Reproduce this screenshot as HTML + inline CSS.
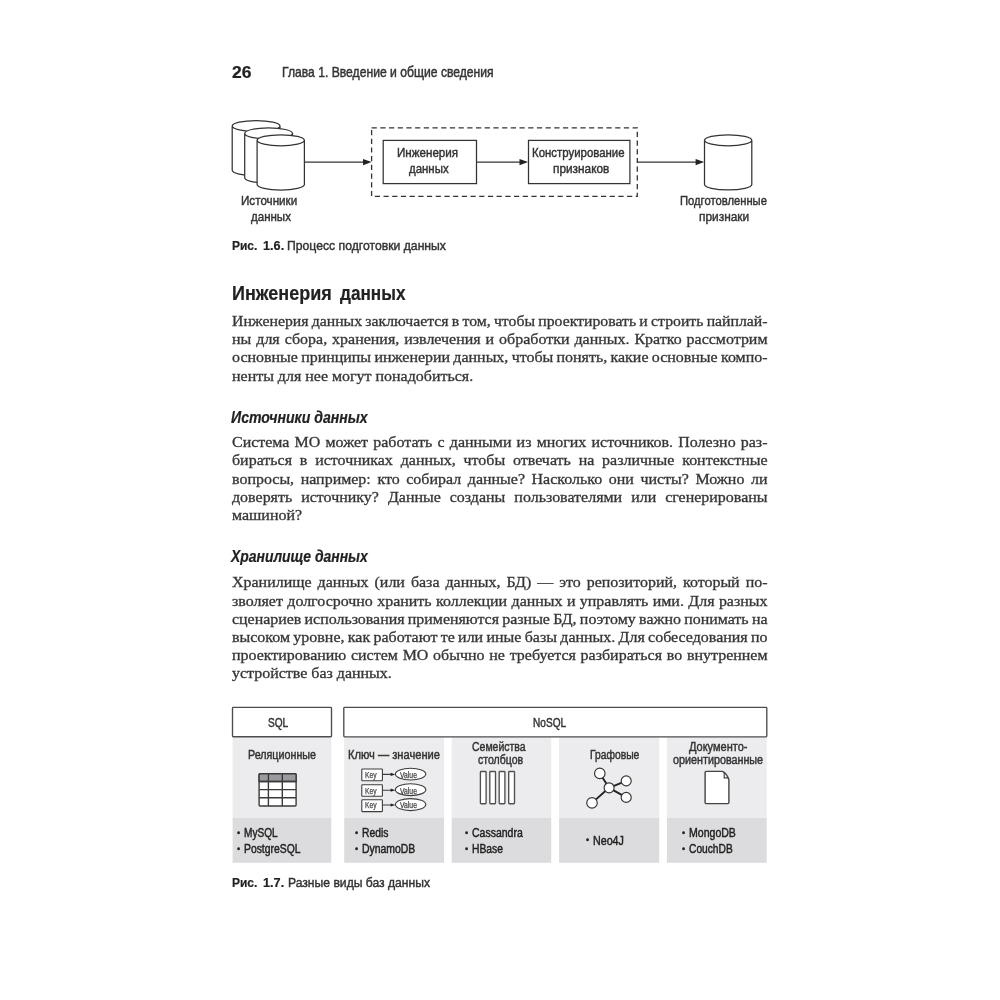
<!DOCTYPE html>
<html lang="ru">
<head>
<meta charset="utf-8">
<title>Глава 1. Введение и общие сведения</title>
<style>
html,body{margin:0;padding:0;background:#fff;}
body{width:1000px;height:1000px;position:relative;overflow:hidden;}
#page{position:absolute;left:0;top:0;width:1000px;height:1000px;overflow:hidden;background:#fff;filter:blur(0.4px);}
svg#art{position:absolute;left:0;top:0;}
.t{position:absolute;white-space:pre;line-height:24px;height:24px;transform-origin:0 50%;display:block;}
.ss{font-family:"Liberation Sans",sans-serif;-webkit-text-stroke:0.45px;}
.sf{font-family:"Liberation Serif",serif;}
h1,h2,p,header,section,article{margin:0;padding:0;font:inherit;display:block;}
.pl{display:block;position:absolute;left:232.3px;font-family:"Liberation Serif",serif;font-size:14.2px;line-height:24px;height:24px;
 white-space:pre;transform:scaleX(1.125);transform-origin:0 50%;color:#363636;text-align:left;-webkit-text-stroke:0.3px;}
</style>
</head>
<body>
<div id="page">
<svg id="art" width="1000" height="1000" viewBox="0 0 1000 1000">
 <!-- ===== Рис. 1.6 ===== -->
 <g fill="#fff" stroke="#333" stroke-width="1.25">
  <!-- cylinders: sources -->
  <path d="M232.2,126 v44.3 a23.9,5.5 0 0 0 47.8,0 v-44.3 a23.9,5.5 0 0 0 -47.8,0 a23.9,5.5 0 0 0 47.8,0"/>
  <path d="M244.7,133.4 v44.3 a23.9,5.5 0 0 0 47.8,0 v-44.3 a23.9,5.5 0 0 0 -47.8,0 a23.9,5.5 0 0 0 47.8,0"/>
  <path d="M257.1,140.3 v44.2 a23.65,5.5 0 0 0 47.3,0 v-44.2 a23.65,5.5 0 0 0 -47.3,0 a23.65,5.5 0 0 0 47.3,0"/>
  <!-- cylinder: prepared features -->
  <path d="M704.5,140.3 v44.2 a23.65,5.5 0 0 0 47.3,0 v-44.2 a23.65,5.5 0 0 0 -47.3,0 a23.65,5.5 0 0 0 47.3,0"/>
  <rect x="383.2" y="140.4" width="93.3" height="43.2"/>
  <rect x="528.5" y="140.4" width="101.4" height="43.2"/>
 </g>
 <rect x="371.6" y="127.8" width="265.7" height="68.6" fill="none" stroke="#333" stroke-width="1.3" stroke-dasharray="5.2 3.5"/>
 <g stroke="#333" stroke-width="1.25" fill="none">
  <path d="M304.4,162.1 H364"/>
  <path d="M476.5,162.1 H520"/>
  <path d="M637.5,162.1 H697"/>
 </g>
 <g fill="#222">
  <path d="M371.6,162.1 l-8.6,-3.1 v6.2 z"/>
  <path d="M528.1,162.1 l-8.6,-3.1 v6.2 z"/>
  <path d="M704.2,162.1 l-8.6,-3.1 v6.2 z"/>
 </g>

 <!-- ===== Рис. 1.7 ===== -->
 <g fill="#ececee">
  <rect x="232.6" y="737" width="98.7" height="81"/>
  <rect x="344.2" y="737" width="99.9" height="81"/>
  <rect x="451.7" y="737" width="99.5" height="81"/>
  <rect x="559.1" y="737" width="100.1" height="81"/>
  <rect x="666.9" y="737" width="99.8" height="81"/>
 </g>
 <g fill="#dcdcde">
  <rect x="232.6" y="818" width="98.7" height="44.8"/>
  <rect x="344.2" y="818" width="99.9" height="44.8"/>
  <rect x="451.7" y="818" width="99.5" height="44.8"/>
  <rect x="559.1" y="818" width="100.1" height="44.8"/>
  <rect x="666.9" y="818" width="99.8" height="44.8"/>
 </g>
 <g fill="#fff" stroke="#4c4c4c" stroke-width="1.35">
  <rect x="232.5" y="707.4" width="99" height="29.3" rx="0.8"/>
  <rect x="343.8" y="707.4" width="423" height="29.4" rx="0.8"/>
 </g>
 <!-- table icon -->
 <g stroke="#3a3a3a" stroke-width="1.4">
  <rect x="259.1" y="773.7" width="37" height="32.3" rx="1" fill="#fff"/>
  <path d="M259.1,781.5 V774.7 a1,1 0 0 1 1,-1 H295.1 a1,1 0 0 1 1,1 V781.5 Z" fill="#9b9b9f"/>
  <path d="M259.1,781.5 H296.1 M259.1,789.6 H296.1 M259.1,797.8 H296.1 M268.4,773.7 V806 M282.3,773.7 V806" fill="none"/>
 </g>
 <!-- key / value icon -->
 <g stroke="#3c3c3c" stroke-width="1.1" fill="#fff">
  <rect x="361.8" y="769" width="20.6" height="11.8" rx="0.6"/>
  <rect x="361.8" y="784.7" width="20.6" height="11.6" rx="0.6"/>
  <rect x="361.8" y="799.8" width="20.6" height="11.8" rx="0.6"/>
  <ellipse cx="410.6" cy="774.1" rx="15.2" ry="5.9"/>
  <ellipse cx="410.6" cy="789.7" rx="15.2" ry="5.9"/>
  <ellipse cx="410.6" cy="804.6" rx="15.2" ry="6"/>
  <path d="M382.4,774.4 H391 M382.4,790.2 H391 M382.4,805 H391" fill="none"/>
 </g>
 <g fill="#222">
  <path d="M395.4,774.4 l-4.8,-1.6 v3.2 z"/>
  <path d="M395.4,790.2 l-4.8,-1.6 v3.2 z"/>
  <path d="M395.4,805 l-4.8,-1.6 v3.2 z"/>
 </g>
 <!-- column families icon -->
 <g stroke="#505050" stroke-width="1.35" fill="#fff">
  <rect x="480.4" y="771.5" width="5.7" height="32.2" rx="0.8"/>
  <rect x="489.8" y="771.5" width="5.7" height="32.2" rx="0.8"/>
  <rect x="499.2" y="771.5" width="5.7" height="32.2" rx="0.8"/>
  <rect x="508.7" y="771.5" width="5.8" height="32.2" rx="0.8"/>
 </g>
 <!-- graph icon -->
 <g stroke="#222" stroke-width="1.9" fill="none">
  <path d="M609.1,787.8 L599.8,773.4 M609.1,787.8 L626.2,780.9 M609.1,787.8 L626.2,797.4 M609.1,787.8 L592,802.9"/>
 </g>
 <g stroke="#333" stroke-width="1.15" fill="#fff">
  <circle cx="599.8" cy="773.4" r="5.25"/>
  <circle cx="626.2" cy="780.9" r="5"/>
  <circle cx="626.2" cy="797.4" r="5"/>
  <circle cx="592" cy="802.9" r="5.25"/>
  <circle cx="609.1" cy="787.8" r="5"/>
 </g>
 <!-- document icon -->
 <g stroke="#444" stroke-width="1.4" fill="#fff" stroke-linejoin="round">
  <path d="M706.1,771.4 H722.4 Q726.8,773.4 728.9,779.8 V802.6 a1,1 0 0 1 -1,1 H706.1 a1,1 0 0 1 -1,-1 V772.4 a1,1 0 0 1 1,-1 Z"/>
  <path d="M724.2,772.4 V777.9 H728.2" fill="none" stroke-width="1.2"/>
 </g>
</svg>
<header>
<span class="t ss" style="left:231.67px;top:60.83px;font-size:15.8px;transform:scaleX(1.1067);color:#222;font-weight:bold;-webkit-text-stroke:0.2px;">26</span>
<span class="t ss" style="left:282.40px;top:61.32px;font-size:13.8px;transform:scaleX(0.8806);color:#333;">Глава 1. Введение и общие сведения</span>
</header>
<section class="fig">
<span class="t ss" style="left:241.04px;top:188.83px;font-size:13.2px;transform:scaleX(0.8829);color:#333;">Источники</span>
<span class="t ss" style="left:250.54px;top:204.93px;font-size:13.2px;transform:scaleX(0.8740);color:#333;">данных</span>
<span class="t ss" style="left:396.64px;top:140.93px;font-size:13.2px;transform:scaleX(0.8808);color:#333;">Инженерия</span>
<span class="t ss" style="left:408.84px;top:156.93px;font-size:13.2px;transform:scaleX(0.8674);color:#333;">данных</span>
<span class="t ss" style="left:532.34px;top:140.93px;font-size:13.2px;transform:scaleX(0.8661);color:#333;">Конструирование</span>
<span class="t ss" style="left:552.64px;top:156.93px;font-size:13.2px;transform:scaleX(0.8972);color:#333;">признаков</span>
<span class="t ss" style="left:680.44px;top:188.83px;font-size:13.2px;transform:scaleX(0.8511);color:#333;">Подготовленные</span>
<span class="t ss" style="left:698.64px;top:204.93px;font-size:13.2px;transform:scaleX(0.9023);color:#333;">признаки</span>
<span class="t ss" style="left:231.72px;top:233.69px;font-size:13.6px;transform:scaleX(0.8819);color:#222;font-weight:bold;-webkit-text-stroke:0.2px;">Рис.</span>
<span class="t ss" style="left:262.82px;top:233.69px;font-size:13.6px;transform:scaleX(0.9330);color:#222;font-weight:bold;-webkit-text-stroke:0.2px;">1.6.</span>
<span class="t ss" style="left:287.12px;top:233.69px;font-size:13.6px;transform:scaleX(0.8972);color:#333;">Процесс подготовки данных</span>
</section>
<article>
<h1>
<span class="t ss" style="left:231.55px;top:281.39px;font-size:20.8px;transform:scaleX(0.8648);color:#222;font-weight:bold;-webkit-text-stroke:0.2px;">Инженерия</span>
<span class="t ss" style="left:339.75px;top:281.39px;font-size:20.8px;transform:scaleX(0.8269);color:#222;font-weight:bold;-webkit-text-stroke:0.2px;">данных</span>
</h1>
<p>
<span class="pl" style="top:308.61px;word-spacing:-0.600px;transform:scaleX(1.1107);">Инженерия данных заключается в том, чтобы проектировать и строить пайплай-</span>
<span class="pl" style="top:326.91px;word-spacing:0.896px;">ны для сбора, хранения, извлечения и обработки данных. Кратко рассмотрим</span>
<span class="pl" style="top:345.21px;word-spacing:-0.600px;transform:scaleX(1.1246);">основные принципы инженерии данных, чтобы понять, какие основные компо-</span>
<span class="pl" style="top:363.51px;">ненты для нее могут понадобиться.</span>
</p>
<h2><span class="t ss" style="left:231.05px;top:404.89px;font-size:16.2px;transform:scaleX(0.8707);color:#222;font-weight:bold;-webkit-text-stroke:0.2px;font-style:italic;">Источники данных</span></h2>
<p>
<span class="pl" style="top:430.21px;word-spacing:1.067px;">Система МО может работать с данными из многих источников. Полезно раз-</span>
<span class="pl" style="top:448.41px;word-spacing:3.422px;">бираться в источниках данных, чтобы отвечать на различные контекстные</span>
<span class="pl" style="top:466.61px;word-spacing:2.323px;">вопросы, например: кто собирал данные? Насколько они чисты? Можно ли</span>
<span class="pl" style="top:484.81px;word-spacing:4.471px;">доверять источнику? Данные созданы пользователями или сгенерированы</span>
<span class="pl" style="top:503.01px;">машиной?</span>
</p>
<h2><span class="t ss" style="left:231.05px;top:544.49px;font-size:16.2px;transform:scaleX(0.8601);color:#222;font-weight:bold;-webkit-text-stroke:0.2px;font-style:italic;">Хранилище данных</span></h2>
<p>
<span class="pl" style="top:570.31px;word-spacing:1.778px;">Хранилище данных (или база данных, БД) — это репозиторий, который по-</span>
<span class="pl" style="top:588.51px;word-spacing:0.363px;">зволяет долгосрочно хранить коллекции данных и управлять ими. Для разных</span>
<span class="pl" style="top:606.71px;word-spacing:-0.600px;transform:scaleX(1.1218);">сценариев использования применяются разные БД, поэтому важно понимать на</span>
<span class="pl" style="top:624.91px;word-spacing:-0.587px;">высоком уровне, как работают те или иные базы данных. Для собеседования по</span>
<span class="pl" style="top:643.11px;word-spacing:0.693px;">проектированию систем МО обычно не требуется разбираться во внутреннем</span>
<span class="pl" style="top:661.31px;">устройстве баз данных.</span>
</p>
</article>
<section class="fig">
<span class="t ss" style="left:268.09px;top:710.90px;font-size:12.4px;transform:scaleX(0.8151);color:#333;">SQL</span>
<span class="t ss" style="left:532.59px;top:710.90px;font-size:12.4px;transform:scaleX(0.8148);color:#333;">NoSQL</span>
<span class="t ss" style="left:248.29px;top:742.90px;font-size:12.4px;transform:scaleX(0.8661);color:#333;">Реляционные</span>
<span class="t ss" style="left:347.69px;top:742.90px;font-size:12.4px;transform:scaleX(0.8990);color:#333;">Ключ — значение</span>
<span class="t ss" style="left:472.09px;top:734.60px;font-size:12.4px;transform:scaleX(0.8459);color:#333;">Семейства</span>
<span class="t ss" style="left:477.89px;top:747.70px;font-size:12.4px;transform:scaleX(0.8494);color:#333;">столбцов</span>
<span class="t ss" style="left:589.59px;top:742.60px;font-size:12.4px;transform:scaleX(0.8321);color:#333;">Графовые</span>
<span class="t ss" style="left:688.89px;top:734.90px;font-size:12.4px;transform:scaleX(0.8871);color:#333;">Документо-</span>
<span class="t ss" style="left:673.19px;top:747.70px;font-size:12.4px;transform:scaleX(0.8695);color:#333;">ориентированные</span>
<span class="t ss" style="left:237.00px;top:820.91px;font-size:9.5px;transform:scaleX(0.9615);color:#222;">•</span>
<span class="t ss" style="left:243.99px;top:821.25px;font-size:12.4px;transform:scaleX(0.8136);color:#222;">MySQL</span>
<span class="t ss" style="left:237.00px;top:836.61px;font-size:9.5px;transform:scaleX(0.9615);color:#222;">•</span>
<span class="t ss" style="left:243.99px;top:836.95px;font-size:12.4px;transform:scaleX(0.8372);color:#222;">PostgreSQL</span>
<span class="t ss" style="left:355.00px;top:820.91px;font-size:9.5px;transform:scaleX(0.9615);color:#222;">•</span>
<span class="t ss" style="left:362.29px;top:821.25px;font-size:12.4px;transform:scaleX(0.8335);color:#222;">Redis</span>
<span class="t ss" style="left:355.00px;top:836.61px;font-size:9.5px;transform:scaleX(0.9615);color:#222;">•</span>
<span class="t ss" style="left:362.29px;top:836.95px;font-size:12.4px;transform:scaleX(0.8414);color:#222;">DynamoDB</span>
<span class="t ss" style="left:465.00px;top:820.91px;font-size:9.5px;transform:scaleX(0.9615);color:#222;">•</span>
<span class="t ss" style="left:471.99px;top:821.25px;font-size:12.4px;transform:scaleX(0.8463);color:#222;">Cassandra</span>
<span class="t ss" style="left:465.00px;top:836.61px;font-size:9.5px;transform:scaleX(0.9615);color:#222;">•</span>
<span class="t ss" style="left:471.99px;top:836.95px;font-size:12.4px;transform:scaleX(0.8309);color:#222;">HBase</span>
<span class="t ss" style="left:585.50px;top:828.31px;font-size:9.5px;transform:scaleX(0.9615);color:#222;">•</span>
<span class="t ss" style="left:592.99px;top:828.65px;font-size:12.4px;transform:scaleX(0.8628);color:#222;">Neo4J</span>
<span class="t ss" style="left:681.90px;top:820.91px;font-size:9.5px;transform:scaleX(0.9615);color:#222;">•</span>
<span class="t ss" style="left:689.39px;top:821.25px;font-size:12.4px;transform:scaleX(0.8513);color:#222;">MongoDB</span>
<span class="t ss" style="left:681.90px;top:836.61px;font-size:9.5px;transform:scaleX(0.9615);color:#222;">•</span>
<span class="t ss" style="left:689.39px;top:836.95px;font-size:12.4px;transform:scaleX(0.8243);color:#222;">CouchDB</span>
<span class="t ss" style="left:364.64px;top:762.62px;font-size:8.6px;transform:scaleX(0.7776);color:#444;-webkit-text-stroke:0.25px;">Key</span>
<span class="t ss" style="left:399.84px;top:762.62px;font-size:8.6px;transform:scaleX(0.7926);color:#444;-webkit-text-stroke:0.25px;">Value</span>
<span class="t ss" style="left:364.64px;top:778.62px;font-size:8.6px;transform:scaleX(0.7776);color:#444;-webkit-text-stroke:0.25px;">Key</span>
<span class="t ss" style="left:399.84px;top:778.62px;font-size:8.6px;transform:scaleX(0.7926);color:#444;-webkit-text-stroke:0.25px;">Value</span>
<span class="t ss" style="left:364.64px;top:793.42px;font-size:8.6px;transform:scaleX(0.7776);color:#444;-webkit-text-stroke:0.25px;">Key</span>
<span class="t ss" style="left:399.84px;top:793.42px;font-size:8.6px;transform:scaleX(0.7926);color:#444;-webkit-text-stroke:0.25px;">Value</span>
<span class="t ss" style="left:231.72px;top:871.29px;font-size:13.6px;transform:scaleX(0.8819);color:#222;font-weight:bold;-webkit-text-stroke:0.2px;">Рис.</span>
<span class="t ss" style="left:262.82px;top:871.29px;font-size:13.6px;transform:scaleX(0.9330);color:#222;font-weight:bold;-webkit-text-stroke:0.2px;">1.7.</span>
<span class="t ss" style="left:287.52px;top:871.29px;font-size:13.6px;transform:scaleX(0.8927);color:#333;">Разные виды баз данных</span>
</section>
</div>
</body>
</html>
